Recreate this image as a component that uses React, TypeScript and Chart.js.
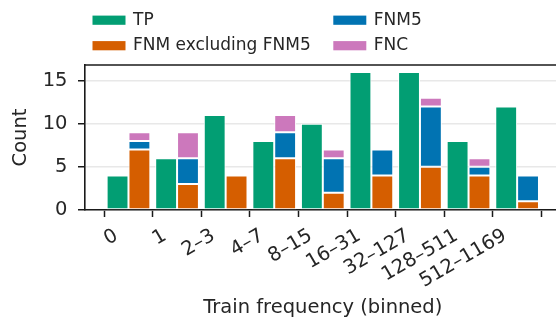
import React, { useEffect, useRef } from "react";
import { Chart, registerables } from "chart.js";

Chart.register(...registerables);

const categories = ["0", "1", "2–3", "4–7", "8–15", "16–31", "32–127", "128–511", "512–1169"];
const tpValues = [4, 6, 11, 8, 10, 16, 16, 8, 12];
const fnmExclValues = [7, 3, 4, 6, 2, 4, 5, 4, 1];
const fnm5Values = [1, 3, 0, 3, 4, 3, 7, 1, 3];
const fncValues = [1, 3, 0, 2, 1, 0, 1, 1, 0];
const yTicks = [0, 5, 10, 15];

const seriesNames = ["TP", "FNM excluding FNM5", "FNM5", "FNC"];
const seriesColors = ["#029e73", "#d55e00", "#0173b2", "#cc78bc"];

const FONT = "'DejaVu Sans', sans-serif";
const TEXT = "#262626";
const AXIS = "#1a1a1a";

const CANVAS_W = 570;
const CANVAS_H = 312;
const PLOT_RIGHT = 552.6;

export default function App() {
  const ref = useRef<HTMLCanvasElement | null>(null);

  useEffect(() => {
    if (!ref.current) return;
    const toPts = (arr: number[]) => arr.map((v, i) => ({ x: i, y: v === 0 ? null : v }));

    const legendPlugin = {
      id: "customLegend",
      afterDraw(chart: any) {
        const ctx = chart.ctx;
        const { left, top } = chart.chartArea;
        ctx.save();
        // top spine (the right spine lies outside the visible page)
        ctx.strokeStyle = AXIS;
        ctx.lineWidth = 1.6;
        ctx.beginPath();
        ctx.moveTo(left - 0.8, top);
        ctx.lineTo(chart.width, top);
        ctx.stroke();
        // legend (two columns)
        const items = [
          { i: 0, x: 84.5, cy: 12.2 },
          { i: 1, x: 84.5, cy: 37.7 },
          { i: 2, x: 325.3, cy: 12.2 },
          { i: 3, x: 325.3, cy: 37.7 },
        ];
        ctx.font = `17px ${FONT}`;
        ctx.textBaseline = "middle";
        ctx.textAlign = "left";
        for (const it of items) {
          ctx.fillStyle = seriesColors[it.i];
          ctx.fillRect(it.x, it.cy - 4.6, 33, 9.2);
          ctx.fillStyle = TEXT;
          ctx.fillText(seriesNames[it.i], it.x + 40.5, it.cy);
        }
        ctx.restore();
      },
    };

    const values = [tpValues, fnmExclValues, fnm5Values, fncValues];
    const stacks = ["tp", "fn", "fn", "fn"];

    const chart = new Chart(ref.current, {
      type: "bar",
      data: {
        datasets: values.map((arr, k) => ({
          label: seriesNames[k],
          data: toPts(arr) as any,
          stack: stacks[k],
          backgroundColor: seriesColors[k],
          borderColor: "#ffffff",
          borderWidth: 1,
          borderSkipped: false,
          categoryPercentage: 0.9,
          barPercentage: 1,
        })),
      },
      options: {
        animation: false,
        responsive: false,
        devicePixelRatio: 1,
        layout: { padding: { left: 0, top: 57, right: CANVAS_W - PLOT_RIGHT, bottom: 0 } },
        plugins: { legend: { display: false }, tooltip: { enabled: false } },
        scales: {
          x: {
            type: "linear",
            stacked: true,
            offset: false,
            min: -0.895,
            max: 8.895,
            afterBuildTicks: (s: any) => {
              s.ticks = categories.map((_, i) => ({ value: i }));
            },
            afterFit: (s: any) => {
              s.height = 110;
              s.paddingLeft = 0;
              s.paddingRight = 0;
            },
            grid: {
              drawOnChartArea: false,
              drawTicks: true,
              tickLength: 7,
              tickColor: AXIS,
              tickWidth: 1.5,
            },
            border: { display: true, color: AXIS, width: 1.6 },
            ticks: {
              autoSkip: false,
              minRotation: 30,
              maxRotation: 30,
              padding: 7.4,
              labelOffset: -12.1,
              color: TEXT,
              font: { family: FONT, size: 19.5 },
              callback: (v: any) => categories[Math.round(Number(v))] ?? "",
            },
            title: {
              display: true,
              text: "Train frequency (binned)",
              color: TEXT,
              font: { family: FONT, size: 19.5 },
              padding: { top: 0, bottom: 0 },
            },
          },
          y: {
            stacked: true,
            min: 0,
            max: 16.8,
            afterBuildTicks: (s: any) => {
              s.ticks = yTicks.map((v) => ({ value: v }));
            },
            afterFit: (s: any) => {
              s.width = 77;
            },
            grid: {
              color: "#e8e8e8",
              lineWidth: 1.5,
              drawTicks: true,
              tickLength: 7,
              tickColor: AXIS,
              tickWidth: 1.5,
            },
            border: { display: true, color: AXIS, width: 1.6 },
            ticks: {
              padding: 10.5,
              color: TEXT,
              font: { family: FONT, size: 19.5 },
            },
            title: {
              display: true,
              text: "Count",
              color: TEXT,
              font: { family: FONT, size: 19.5 },
              padding: { top: 1.5, bottom: 0 },
            },
          },
        },
      },
      plugins: [legendPlugin],
    });
    return () => chart.destroy();
  }, []);

  return (
    <div
      style={{
        position: "fixed",
        left: 8,
        top: 8,
        width: 548,
        height: CANVAS_H,
        overflow: "hidden",
      }}
    >
      <canvas
        ref={ref}
        width={CANVAS_W}
        height={CANVAS_H}
        style={{ width: CANVAS_W, height: CANVAS_H, display: "block" }}
      />
    </div>
  );
}
